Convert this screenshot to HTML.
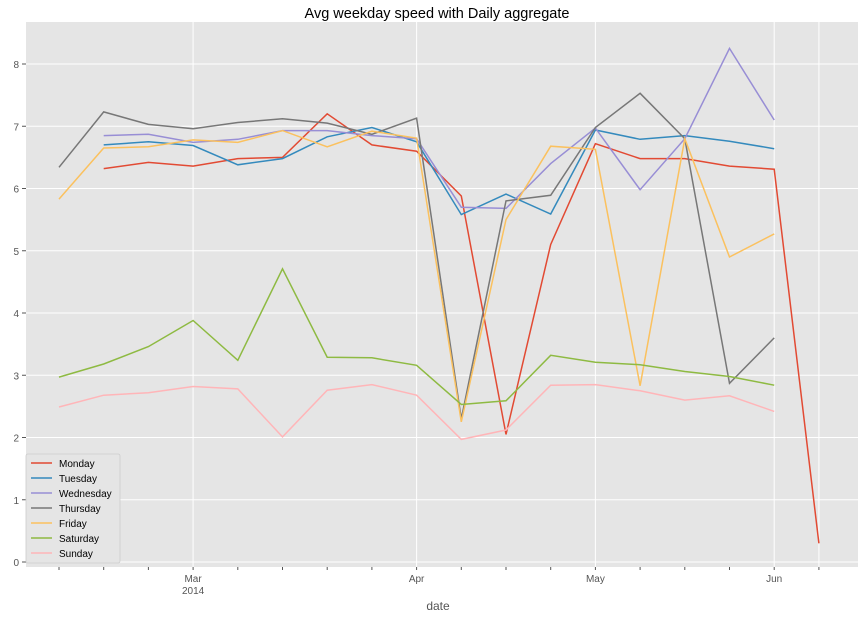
<!DOCTYPE html>
<html><head><meta charset="utf-8"><style>
body{margin:0;background:#fff;font-family:"Liberation Sans","DejaVu Sans",sans-serif;}
svg text{font-family:"Liberation Sans","DejaVu Sans",sans-serif;}
</style></head><body>
<svg id="chart" width="868" height="620">
<text x="437" y="18" text-anchor="middle" font-size="14.5" fill="#000">Avg weekday speed with Daily aggregate</text>
<rect x="26" y="22" width="832" height="545" fill="#E5E5E5"/>
<g id="grid"></g><g id="axes"></g><g id="series"></g><g id="legend"></g>
<text x="438" y="610" text-anchor="middle" font-size="12" fill="#555">date</text>
</svg>
<script>
const names=["Monday","Tuesday","Wednesday","Thursday","Friday","Saturday","Sunday"];
const colors=["#E24A33","#348ABD","#988ED5","#777777","#FBC15E","#8EBA42","#FFB5B8"];
const monday=[null,6.32,6.42,6.36,6.48,6.5,7.2,6.7,6.6,5.88,2.05,5.1,6.72,6.48,6.48,6.36,6.31,0.3];
const tuesday=[null,6.7,6.75,6.69,6.38,6.48,6.83,6.98,6.75,5.58,5.91,5.59,6.94,6.79,6.85,6.76,6.64,null];
const wednesday=[null,6.85,6.87,6.74,6.79,6.93,6.93,6.85,6.8,5.7,5.68,6.4,6.97,5.98,6.8,8.25,7.1,null];
const thursday=[6.34,7.23,7.03,6.96,7.06,7.12,7.05,6.87,7.13,2.3,5.8,5.89,6.98,7.53,6.8,2.87,3.6,null];
const friday=[5.83,6.65,6.67,6.78,6.74,6.93,6.67,6.92,6.81,2.25,5.5,6.68,6.63,2.83,6.8,4.9,5.27,null];
const saturday=[2.97,3.18,3.46,3.88,3.24,4.71,3.29,3.28,3.16,2.53,2.59,3.32,3.21,3.17,3.06,2.98,2.84,null];
const sunday=[2.49,2.68,2.72,2.82,2.78,2.01,2.76,2.85,2.68,1.97,2.12,2.84,2.85,2.75,2.6,2.67,2.42,null];
const series=[monday,tuesday,wednesday,thursday,friday,saturday,sunday];
const yTicks=[0,1,2,3,4,5,6,7,8];
const xMajor=[{i:3,l:["Mar","2014"]},{i:8,l:["Apr"]},{i:12,l:["May"]},{i:16,l:["Jun"]}];
const nWeeks=18;
const NS="http://www.w3.org/2000/svg";
const X=i=>59+i*44.7, Y=v=>562-v*62.25;
function mk(t,a,p){const e=document.createElementNS(NS,t);for(const k in a)e.setAttribute(k,a[k]);p.appendChild(e);return e;}
const grid=document.getElementById('grid'),axes=document.getElementById('axes'),sg=document.getElementById('series'),lg=document.getElementById('legend');
yTicks.forEach(v=>{
 const l=mk('line',{x1:26,x2:858,y1:Y(v),y2:Y(v),stroke:"#fff","stroke-width":1},grid);
 
 
 mk('line',{x1:22,x2:26,y1:Y(v),y2:Y(v),stroke:"#555"},axes);
 const t=mk('text',{x:19,y:Y(v)+4,"text-anchor":"end","font-size":10,fill:"#555"},axes);
 t.textContent=v;
 
 
});
xMajor.concat([{i:17,l:[]}]).forEach(m=>{
 const l=mk('line',{x1:X(m.i),x2:X(m.i),y1:22,y2:567,stroke:"#fff","stroke-width":1},grid);
 
 
 m.l.forEach((s,k)=>{
  const t=mk('text',{x:X(m.i),y:582+k*12,"text-anchor":"middle","font-size":10,fill:"#555"},axes);
  t.textContent=s;
  
  
 });
});
for(let i=0;i<nWeeks;i++){mk('line',{x1:X(i),x2:X(i),y1:567,y2:570,stroke:"#555"},axes);}
series.forEach((s,k)=>{
 let d="";let pen=false;
 s.forEach((v,i)=>{if(v==null){pen=false;return;}d+=(pen?"L":"M")+X(i).toFixed(1)+","+Y(v).toFixed(1);pen=true;});
 const p=mk('path',{d:d,fill:"none",stroke:colors[k],"stroke-width":1.5},sg);
 
 
});
const box=mk('rect',{x:26,y:454,width:94,height:109,fill:"#E5E5E5",stroke:"#ccc","stroke-width":0.8,rx:2},lg);


names.forEach((n,k)=>{
 const y=463+k*15;
 mk('line',{x1:31,x2:52,y1:y,y2:y,stroke:colors[k],"stroke-width":1.5},lg);
 const t=mk('text',{x:59,y:y+4,"font-size":10,fill:"#000"},lg);
 t.textContent=n;
 
 
});
</script>
</body></html>
